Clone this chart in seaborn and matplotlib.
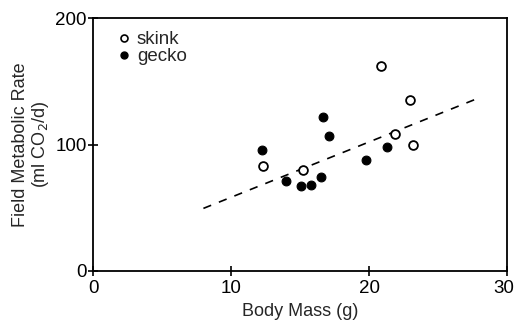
import matplotlib
matplotlib.use("Agg")
import matplotlib.pyplot as plt
import matplotlib.transforms as mtransforms
import seaborn as sns
import pandas as pd
from matplotlib.lines import Line2D

skink_mass = [20.9, 23.0, 21.9, 23.2, 12.3, 15.2]
skink_fmr = [162, 135, 108, 100, 83, 80]
gecko_mass = [12.25, 14.0, 15.1, 15.8, 16.5, 16.7, 17.1, 19.8, 21.3]
gecko_fmr = [96, 71, 67, 68, 74.5, 121.5, 107, 87.5, 98]
fit_mass = [8, 28]
fit_fmr = [49.5, 137]

sns.set_theme(style="ticks")
plt.rcParams['font.family'] = ['Liberation Sans', 'DejaVu Sans']

fig = plt.figure(figsize=(5.15, 3.22), dpi=100)
ax = fig.add_axes([0.1806, 0.1584, 0.8039, 0.7856])

skink = pd.DataFrame({"mass": skink_mass, "fmr": skink_fmr})
gecko = pd.DataFrame({"mass": gecko_mass, "fmr": gecko_fmr})
fit = pd.DataFrame({"mass": fit_mass, "fmr": fit_fmr})

sns.lineplot(data=fit, x="mass", y="fmr", ax=ax, color="black", lw=1.2,
             linestyle=(0, (5, 5)))
sns.scatterplot(data=skink, x="mass", y="fmr", ax=ax, s=40, facecolor="white",
                edgecolor="black", linewidth=1.3, zorder=3)
sns.scatterplot(data=gecko, x="mass", y="fmr", ax=ax, s=40, color="black",
                edgecolor="black", linewidth=0.8, zorder=3)

ax.set_xlim(0, 30)
ax.set_ylim(0, 200)
ax.set_xticks([0, 10, 20, 30])
ax.set_yticks([0, 100, 200])
ax.tick_params(direction="inout", length=7, width=1.2, labelsize=13.5, colors="black", pad=1)
ax.tick_params(axis="x", pad=3)
for s in ax.spines.values():
    s.set_linewidth(1.3)
    s.set_color("black")
    s.set_visible(True)

ax.set_xlabel("Body Mass (g)", fontsize=13, labelpad=4.5)
ax.set_ylabel("Field Metabolic Rate\n(ml CO$_2$/d)", fontsize=13, labelpad=3, linespacing=1.05)

# nudge the last x tick label so it stays inside the canvas
last = ax.get_xticklabels()[-1]
last.set_transform(last.get_transform() + mtransforms.ScaledTranslation(-3 / 100, 0, fig.dpi_scale_trans))

handles = [
    Line2D([], [], marker="o", linestyle="none", markerfacecolor="white",
           markeredgecolor="black", markersize=5, markeredgewidth=1.2, label="skink"),
    Line2D([], [], marker="o", linestyle="none", markerfacecolor="black",
           markeredgecolor="black", markersize=5, label="gecko"),
]
ax.legend(handles=handles, loc="upper left", frameon=False, fontsize=13.5,
          handletextpad=0.2, labelspacing=0.0, borderaxespad=0.3,
          bbox_to_anchor=(0.02, 1.0), handlelength=1.0)

fig.savefig("out.png", dpi=100)
